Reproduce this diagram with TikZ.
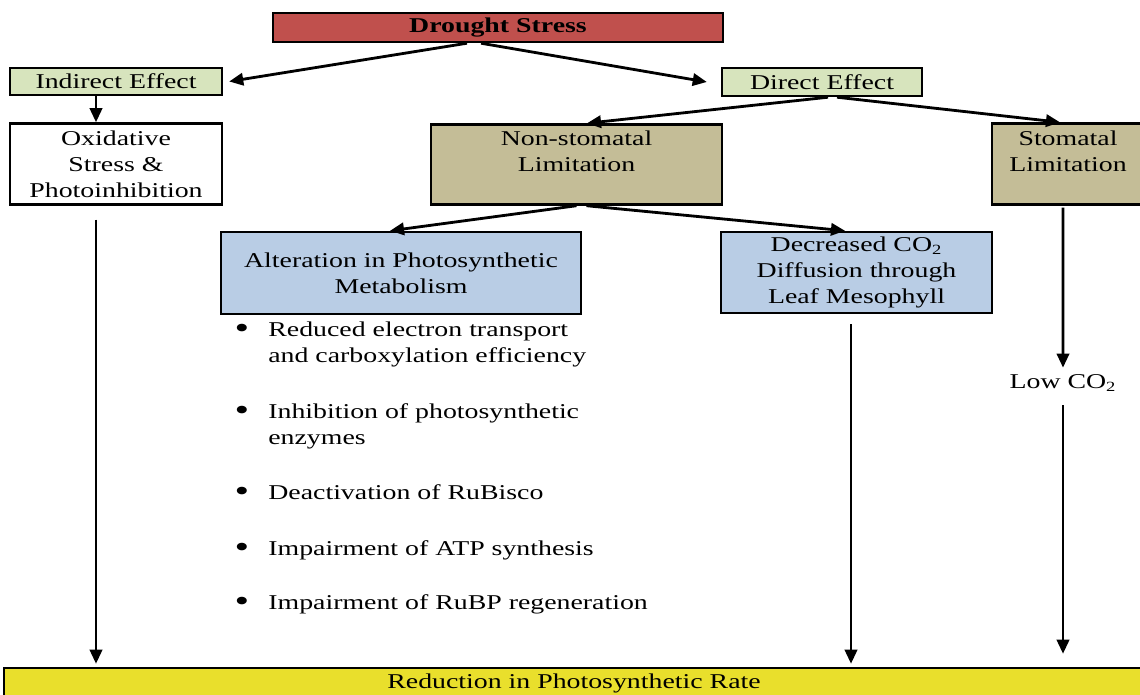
\documentclass[tikz,border=0pt]{standalone}
\usepackage{fontspec}
\setmainfont[FakeStretch=1.32]{Liberation Serif}
\usetikzlibrary{arrows.meta}

\definecolor{droughtred}{HTML}{C0504D}
\definecolor{effectgreen}{HTML}{D7E4BD}
\definecolor{limittan}{HTML}{C4BD97}
\definecolor{metablue}{HTML}{B9CDE5}
\definecolor{rateyellow}{HTML}{E9DF2C}

\tikzset{
  box/.style={draw=black, line width=1.4pt, inner sep=0pt, align=center,
    font=\fontsize{12}{14.8}\selectfont},
  arr/.style={line width=1.6pt, -{Triangle[length=8pt,width=7pt]}},
  pt/.style={inner sep=0pt, font=\fontsize{12}{14.8}\selectfont},
  dot/.style={inner sep=0pt, font=\fontsize{18}{18}\selectfont},
}

\begin{document}
\begin{tikzpicture}[x=0.02cm,y=-0.02cm]
\useasboundingbox (0,0) rectangle (1140,695);

% boxes
\node[box, fill=droughtred, minimum width=9cm, minimum height=0.58cm] (drought) at (498,27.5) {\textbf{Drought Stress}};
\node[box, fill=effectgreen, minimum width=4.24cm, minimum height=0.54cm] (indirect) at (116,81.5) {Indirect Effect};
\node[box, fill=effectgreen, minimum width=4cm, minimum height=0.56cm] (direct) at (822,82) {Direct Effect};
\node[box, fill=white, minimum width=4.24cm, minimum height=1.62cm] (oxid) at (116,164) {Oxidative\\Stress \&\\Photoinhibition};
\node[box, fill=limittan, minimum width=5.82cm, minimum height=1.6cm] (nonstom) at (576.5,164.5) {Non-stomatal\\Limitation\\\phantom{L}};
\node[box, fill=limittan, minimum width=3.04cm, minimum height=1.62cm] (stom) at (1068,164) {Stomatal\\Limitation\\\phantom{L}};
\node[box, fill=metablue, minimum width=7.2cm, minimum height=1.64cm] (alter) at (401,273) {Alteration in Photosynthetic\\Metabolism};
\node[box, fill=metablue, minimum width=5.42cm, minimum height=1.62cm] (decr) at (856.5,272.5) {Decreased CO\textsubscript{2}\\Diffusion through\\Leaf Mesophyll};
\node[box, fill=rateyellow, minimum width=22.8cm, minimum height=0.6cm] (reduce) at (574,683) {Reduction in Photosynthetic Rate};
\node[pt, minimum height=0.6cm] (lowco) at (1063,383) {Low CO\textsubscript{2}};

% bullet list
\node[dot] (b1) at (242,331) {\textbullet};
\node[pt, anchor=west] (t1a) at (268,331) {\strut Reduced electron transport};
\node[pt, anchor=west] (t1b) at (268,357) {\strut and carboxylation efficiency};
\node[dot] (b2) at (242,413) {\textbullet};
\node[pt, anchor=west] (t2a) at (268,413) {\strut Inhibition of photosynthetic};
\node[pt, anchor=west] (t2b) at (268,439) {\strut enzymes};
\node[dot] (b3) at (242,494) {\textbullet};
\node[pt, anchor=west] (t3) at (268,494) {\strut Deactivation of RuBisco};
\node[dot] (b4) at (242,550) {\textbullet};
\node[pt, anchor=west] (t4) at (268,550) {\strut Impairment of ATP synthesis};
\node[dot] (b5) at (242,604) {\textbullet};
\node[pt, anchor=west] (t5) at (268,604) {\strut Impairment of RuBP regeneration};

% arrows
\draw[arr] ([xshift=-0.62cm]drought.south) -- ([xshift=0.12cm]indirect.east);
\draw[arr] ([xshift=-0.34cm]drought.south) -- ([xshift=-0.28cm]direct.west);
\draw[arr] ([xshift=-0.4cm]indirect.south) -- ([xshift=-0.4cm]oxid.north);
\draw[arr] ([xshift=0.12cm]direct.south) -- ([xshift=0.21cm]nonstom.north);
\draw[arr] ([xshift=0.3cm]direct.south) -- ([xshift=-0.16cm]stom.north);
\draw[arr] (nonstom.south) -- ([xshift=-0.22cm]alter.north);
\draw[arr] ([xshift=0.2cm]nonstom.south) -- ([xshift=-0.23cm]decr.north);
\draw[arr, shorten >=0.06cm] ([xshift=-0.4cm,yshift=-0.28cm]oxid.south) -- ([xshift=-0.4cm]oxid.south |- reduce.north);
\draw[arr, shorten >=0.06cm] ([xshift=-0.11cm,yshift=-0.2cm]decr.south) -- ([xshift=-0.11cm]decr.south |- reduce.north);
\draw[arr] ([xshift=-0.1cm,yshift=-0.04cm]stom.south) -- (lowco.north);
\draw[arr, shorten <=0.14cm, shorten >=0.26cm] (lowco.south) -- (lowco.south |- reduce.north);
\end{tikzpicture}
\end{document}
